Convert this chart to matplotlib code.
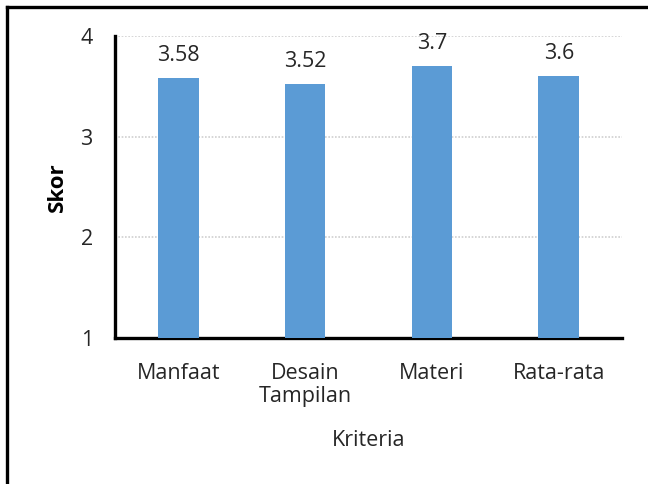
import matplotlib.pyplot as plt
from matplotlib.lines import Line2D

kriteria = ["Manfaat", "Desain\nTampilan", "Materi", "Rata-rata"]
skor = [3.58, 3.52, 3.7, 3.6]
skor_label = ["3.58", "3.52", "3.7", "3.6"]

plt.rcParams['font.family'] = ['Open Sans', 'DejaVu Sans']
fs = 15.5
txt = "#262626"

fig = plt.figure(figsize=(6.48, 4.84), dpi=100)
ax = fig.add_axes([0.1775, 0.3017, 0.7825, 0.6239])

x = range(len(kriteria))
ax.bar(x, skor, width=0.32, color="#5b9bd5", zorder=3)
for xi, v, s in zip(x, skor, skor_label):
    ax.text(xi, v + 0.12, s, ha="center", va="bottom", fontsize=fs, color=txt)

ax.set_ylim(1, 4)
ax.set_xlim(-0.5, len(kriteria) - 0.5)
ax.set_yticks([1, 2, 3, 4])
ax.set_xticks(list(x))
ax.set_xticklabels(kriteria, fontsize=fs, color=txt, linespacing=1.1)
ax.tick_params(axis="y", length=0, pad=16, labelsize=fs, labelcolor=txt)
ax.tick_params(axis="x", length=0, pad=18)

ax.yaxis.grid(True, color="#cfcfcf", linestyle=(0, (1, 1)), linewidth=1.2, zorder=0)
for side in ["top", "right"]:
    ax.spines[side].set_visible(False)
for side in ["left", "bottom"]:
    ax.spines[side].set_linewidth(2.4)
    ax.spines[side].set_color("black")

ax.set_ylabel("Skor", fontsize=16, fontweight="bold", labelpad=9)
ax.set_xlabel("Kriteria", fontsize=fs, color=txt, labelpad=17)

# outer frame (top and left edges)
fig.add_artist(Line2D([7 / 648, 1], [1 - 7 / 484, 1 - 7 / 484], color="black",
                      linewidth=2.4, transform=fig.transFigure))
fig.add_artist(Line2D([7 / 648, 7 / 648], [0, 1 - 7 / 484], color="black",
                      linewidth=2.4, transform=fig.transFigure))

fig.savefig("out.png", dpi=100)
